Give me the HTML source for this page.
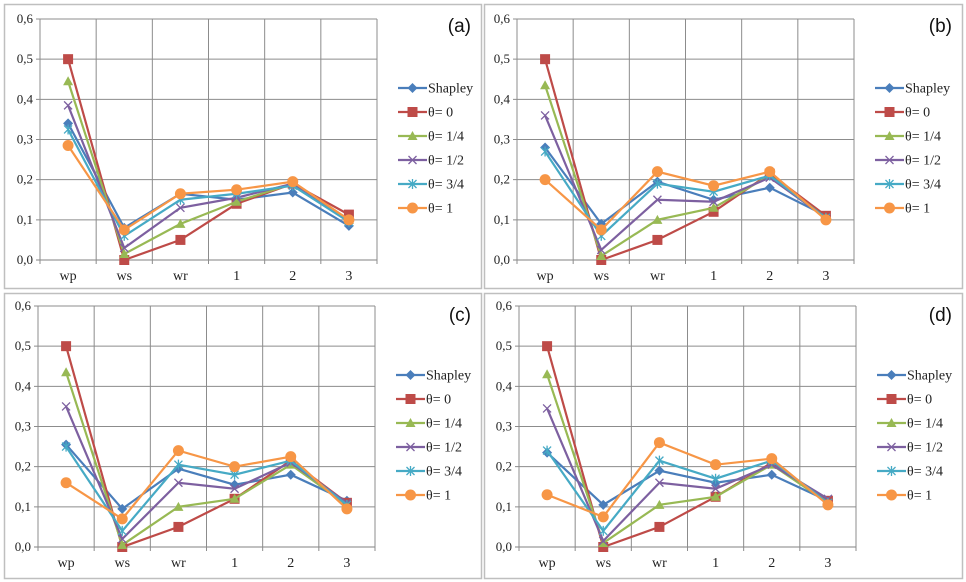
<!DOCTYPE html>
<html><head><meta charset="utf-8"><style>
html,body{margin:0;padding:0;background:#fff;}
svg{display:block;font-family:"Liberation Serif",serif;}
svg text{font-family:"Liberation Serif",serif;}
svg text.plabel{font-family:"Liberation Sans",sans-serif;}
</style></head><body>
<svg id="c" width="966" height="582"></svg>
<script>
const categories=["wp","ws","wr","1","2","3"];
const seriesNames=["Shapley","θ= 0","θ= 1/4","θ= 1/2","θ= 3/4","θ= 1"];
const yTicks=["0,0","0,1","0,2","0,3","0,4","0,5","0,6"];
const panelLabels=["(a)","(b)","(c)","(d)"];
const panelA=[[0.34,0.08,0.165,0.15,0.168,0.085],[0.5,0,0.05,0.14,0.19,0.113],[0.445,0.015,0.09,0.145,0.19,0.1],[0.385,0.03,0.13,0.155,0.19,0.1],[0.325,0.06,0.15,0.165,0.185,0.095],[0.285,0.075,0.165,0.175,0.195,0.1]];
const panelB=[[0.28,0.09,0.195,0.15,0.18,0.11],[0.5,0,0.05,0.12,0.215,0.11],[0.435,0.01,0.1,0.13,0.21,0.105],[0.36,0.025,0.15,0.145,0.205,0.105],[0.27,0.06,0.19,0.17,0.21,0.105],[0.2,0.075,0.22,0.185,0.22,0.1]];
const panelC=[[0.255,0.095,0.195,0.155,0.18,0.115],[0.5,0,0.05,0.12,0.215,0.11],[0.435,0.005,0.1,0.12,0.205,0.105],[0.35,0.02,0.16,0.145,0.21,0.11],[0.25,0.04,0.205,0.18,0.215,0.105],[0.16,0.07,0.24,0.2,0.225,0.095]];
const panelD=[[0.235,0.105,0.19,0.16,0.18,0.115],[0.5,0,0.05,0.125,0.21,0.115],[0.43,0.01,0.105,0.125,0.205,0.11],[0.345,0.015,0.16,0.145,0.205,0.12],[0.24,0.04,0.215,0.17,0.215,0.11],[0.13,0.075,0.26,0.205,0.22,0.105]];
const colors=["#4a7ebb","#be4b48","#98b954","#7d60a0","#46aac5","#f79646"];
const markers=["diamond","square","triangle","x","star","circle"];
const panels=[
 {d:panelA,bx:4,by:4,bw:477,bh:284,l:40,r:377,t:19,b:260},
 {d:panelB,bx:484,by:4,bw:478,bh:284,l:517,r:854,t:19,b:260},
 {d:panelC,bx:4,by:293,bw:477,bh:285,l:38,r:375,t:306,b:547},
 {d:panelD,bx:484,by:293,bw:478,bh:285,l:519,r:856,t:306,b:547}];
const svg=document.getElementById('c');
const NS="http://www.w3.org/2000/svg";
function mk(tag,attrs,parent){const e=document.createElementNS(NS,tag);for(const k in attrs)e.setAttribute(k,attrs[k]);parent.appendChild(e);return e;}
function marker(g,type,x,y,col){
 let e;
 if(type==="diamond")e=mk('polygon',{points:`${x},${y-5} ${x+5},${y} ${x},${y+5} ${x-5},${y}`,fill:col},g);
 else if(type==="square")e=mk('rect',{x:x-5,y:y-5,width:10,height:10,fill:col},g);
 else if(type==="triangle")e=mk('polygon',{points:`${x},${y-5} ${x+5},${y+4} ${x-5},${y+4}`,fill:col},g);
 else if(type==="x")e=mk('path',{d:`M${x-4} ${y-4}L${x+4} ${y+4}M${x-4} ${y+4}L${x+4} ${y-4}`,stroke:col,'stroke-width':1.3},g);
 else if(type==="star")e=mk('path',{d:`M${x-4} ${y-4}L${x+4} ${y+4}M${x-4} ${y+4}L${x+4} ${y-4}M${x} ${y-5}L${x} ${y+5}`,stroke:col,'stroke-width':1.3},g);
 else e=mk('circle',{cx:x,cy:y,r:5.5,fill:col},g);
 return e;
}
panels.forEach((p,pi)=>{
 const g=mk('g',{},svg);
 
 
 const frame=mk('rect',{x:p.bx+0.5,y:p.by+0.5,width:p.bw,height:p.bh,fill:'#fff',stroke:'#bfbfbf','stroke-width':1.5},g);
 
 
 const xs=i=>p.l+(i+0.5)*(p.r-p.l)/categories.length;
 const ys=v=>p.b-(v/0.6)*(p.b-p.t);
 yTicks.forEach((t,i)=>{
  const y=ys(i*0.1);
  mk('line',{x1:p.l-4,x2:p.r,y1:y,y2:y,stroke:i===0?'#808080':'#8c8c8c','stroke-width':1},g);
  const tx=mk('text',{x:p.l-7,y:y+4,'text-anchor':'end','font-size':13,fill:'#222'},g);
  tx.textContent=t;
  
  
 });
 for(let i=0;i<=categories.length;i++){
  const x=p.l+i*(p.r-p.l)/categories.length;
  mk('line',{x1:x,x2:x,y1:p.t,y2:p.b+4,stroke:'#8c8c8c','stroke-width':1},g);
 }
 categories.forEach((c,i)=>{
  const tx=mk('text',{x:xs(i),y:p.b+20,'text-anchor':'middle','font-size':14,fill:'#222'},g);
  tx.textContent=c;
  
  
 });
 p.d.forEach((vals,si)=>{
  const sg=mk('g',{},g);
  
  
  const pts=vals.map((v,i)=>xs(i)+','+ys(v)).join(' ');
  mk('polyline',{points:pts,fill:'none',stroke:colors[si],'stroke-width':2.2},sg);
  vals.forEach((v,i)=>{
   const m=marker(sg,markers[si],xs(i),ys(v),colors[si]);
   
   
  });
 });
 const lx=p.r+21, ly0=p.t+69;
 seriesNames.forEach((n,si)=>{
  const lg=mk('g',{},g);
  
  
  const y=ly0+si*24;
  mk('line',{x1:lx,x2:lx+29,y1:y,y2:y,stroke:colors[si],'stroke-width':2.2},lg);
  marker(lg,markers[si],lx+14.5,y,colors[si]);
  const tx=mk('text',{x:lx+30,y:y+4.5,'font-size':14,fill:'#222'},lg);
  tx.textContent=n;
 });
 const lab=mk('text',{x:p.bx+p.bw-10,y:p.by+28,'text-anchor':'end','font-size':19,fill:'#111','class':'plabel'},g);
 lab.textContent=panelLabels[pi];
 
 
});
</script>
</body></html>
